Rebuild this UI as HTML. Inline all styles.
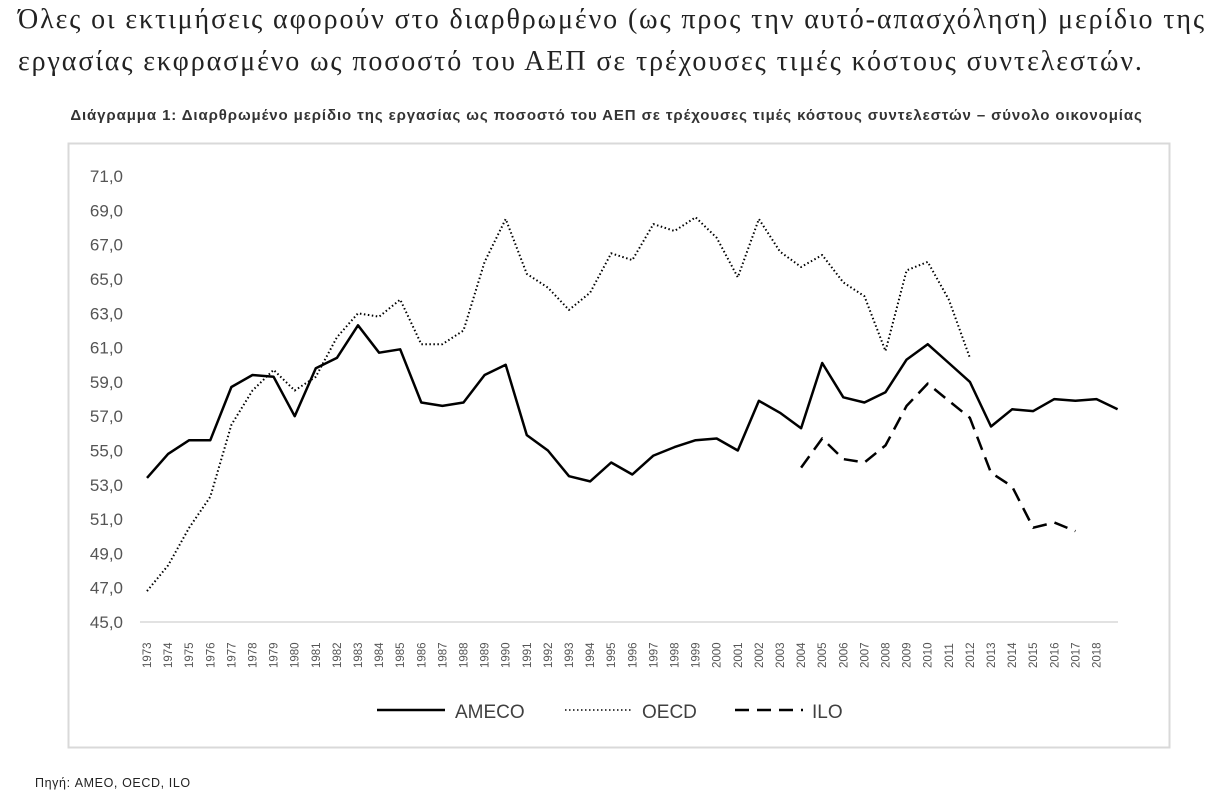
<!DOCTYPE html>
<html><head><meta charset="utf-8">
<style>
body{margin:0;width:1213px;height:807px;background:#fff;overflow:hidden;position:relative;font-family:"Liberation Sans","DejaVu Sans",sans-serif}
.h{position:absolute;left:18px;font-family:"Liberation Serif","DejaVu Serif",serif;font-size:28px;color:#222;white-space:nowrap;letter-spacing:1.9px}
.t{position:absolute;left:0;width:1213px;top:107px;text-align:center;font-weight:bold;font-size:15px;color:#333;letter-spacing:0.9px;white-space:nowrap}
.s{position:absolute;left:35px;top:776px;font-size:12.5px;color:#222;letter-spacing:0.6px}
svg{position:absolute;left:0;top:0}
</style></head><body>
<div class="h" style="top:4px">Όλες οι εκτιμήσεις αφορούν στο διαρθρωμένο (ως προς την αυτό-απασχόληση) μερίδιο της</div>
<div class="h" style="top:46px">εργασίας εκφρασμένο ως ποσοστό του ΑΕΠ σε τρέχουσες τιμές κόστους συντελεστών.</div>
<div class="t">Διάγραμμα 1: Διαρθρωμένο μερίδιο της εργασίας ως ποσοστό του ΑΕΠ σε τρέχουσες τιμές κόστους συντελεστών – σύνολο οικονομίας</div>
<div class="s">Πηγή: AMEO, OECD, ILO</div>
<svg id="c" width="1213" height="807" xmlns="http://www.w3.org/2000/svg"></svg>
<script>
var A=[53.4,54.8,55.6,55.6,58.7,59.4,59.3,57.0,59.8,60.4,62.3,60.7,60.9,57.8,57.6,57.8,59.4,60.0,55.9,55.0,53.5,53.2,54.3,53.6,54.7,55.2,55.6,55.7,55.0,57.9,57.2,56.3,60.1,58.1,57.8,58.4,60.3,61.2,60.1,59.0,56.4,57.4,57.3,58.0,57.9,58.0,57.4];
var O=[46.8,48.3,50.5,52.3,56.5,58.5,59.7,58.5,59.3,61.6,63.0,62.8,63.8,61.2,61.2,62.0,66.0,68.5,65.3,64.5,63.2,64.2,66.5,66.1,68.2,67.8,68.6,67.4,65.1,68.5,66.6,65.7,66.4,64.8,64.0,60.8,65.5,66.0,63.8,60.4];
var I=[54.0,55.7,54.5,54.3,55.3,57.6,58.9,57.9,56.9,53.7,52.9,50.5,50.8,50.3];
function X(i){return 147+i*21.1}
function Y(v){return 622-(v-45)*17.15}
var s='<rect x="68.5" y="143.5" width="1101" height="604" fill="#fff" stroke="#d9d9d9" stroke-width="2"/>';
for(var v=45;v<=71;v+=2){s+='<text x="123" y="'+(Y(v)+6)+'" text-anchor="end" font-size="17" fill="#555" font-family="Liberation Sans,sans-serif">'+v+',0</text>';}
s+='<line x1="140" y1="622" x2="1118" y2="622" stroke="#d9d9d9" stroke-width="1.5"/>';
for(var i=0;i<46;i++){var x=X(i)+4;s+='<text transform="translate('+x+',668) rotate(-90)" font-size="11.5" fill="#555" font-family="Liberation Sans,sans-serif">'+(1973+i)+'</text>';}
function pl(d,o,st){var p=d.map(function(v,i){return X(i+o).toFixed(1)+','+Y(v).toFixed(1)}).join(' ');return '<polyline points="'+p+'" fill="none" stroke="#000" '+st+' stroke-linejoin="round"/>';}
s+=pl(O,0,'stroke-width="2" stroke-dasharray="1.5 2.5" stroke="#444"');
s+=pl(I,31,'stroke-width="2.5" stroke-dasharray="14 8"');
s+=pl(A,0,'stroke-width="2.5"');
s+='<line x1="377" y1="710" x2="445" y2="710" stroke="#000" stroke-width="2.5"/><text x="455" y="718" font-size="19" fill="#404040">AMECO</text>';
s+='<line x1="565" y1="710" x2="632" y2="710" stroke="#444" stroke-width="2" stroke-dasharray="1.5 2.5"/><text x="642" y="718" font-size="19" fill="#404040">OECD</text>';
s+='<line x1="735" y1="710" x2="803" y2="710" stroke="#000" stroke-width="2.5" stroke-dasharray="14 8"/><text x="812" y="718" font-size="19" fill="#404040">ILO</text>';
document.getElementById('c').innerHTML=s;
</script>
</body></html>
